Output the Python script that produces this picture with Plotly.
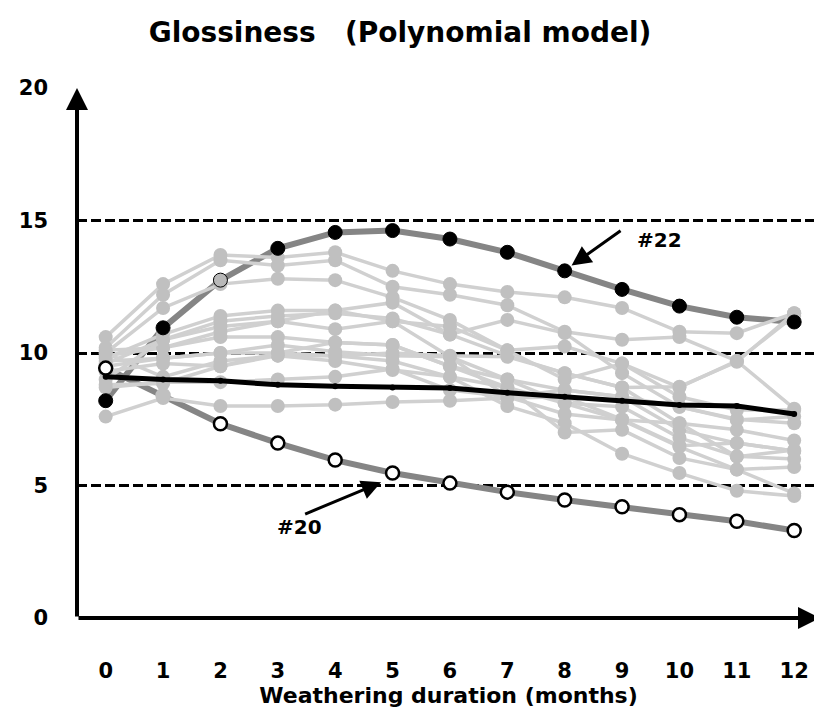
import plotly.graph_objects as go

months = list(range(13))
x_tick_labels = [str(m) for m in months]
y_ticks = [0, 5, 10, 15, 20]

G01 = [10.6, 12.6, 13.7, 13.6, 13.8, 13.1, 12.6, 12.3, 12.1, 11.7, 10.8, 10.75, 11.5]
G02 = [10.2, 12.2, 13.5, 13.3, 13.5, 12.5, 12.2, 11.8, 10.8, 10.5, 10.6, 9.7, 7.9]
G03 = [10.0, 11.7, 12.6, 12.8, 12.75, 12.1, 11.25, 10.1, 10.25, 9.6, 8.7, 9.7, 11.4]
G04 = [9.8, 10.7, 11.4, 11.6, 11.6, 11.9, 10.7, 11.25, 10.75, 9.24, 7.97, 7.5, 7.35]
G05 = [9.6, 10.5, 11.2, 11.4, 11.5, 11.3, 10.7, 9.9, 9.24, 8.7, 7.35, 7.1, 6.7]
G06 = [10.1, 10.2, 10.8, 11.2, 10.9, 11.2, 9.86, 9.0, 8.6, 8.35, 7.1, 6.6, 6.3]
G07 = [9.9, 10.2, 10.6, 10.6, 10.4, 10.3, 9.5, 8.7, 8.1, 7.97, 6.8, 6.1, 6.0]
G08 = [9.7, 9.8, 10.0, 10.3, 10.05, 9.9, 9.86, 8.35, 7.7, 7.47, 6.46, 5.6, 5.7]
G09 = [10.0, 9.1, 9.7, 9.9, 9.9, 9.7, 9.1, 8.0, 7.35, 6.2, 5.47, 4.8, 4.6]
G10 = [8.8, 8.85, 9.5, 9.9, 9.7, 9.36, 9.1, 8.7, 7.0, 7.1, 6.04, 5.6, 4.7]
G11 = [8.7, 8.9, 8.9, 9.0, 9.1, 9.4, 8.6, 8.35, 8.6, 8.35, 7.97, 7.47, 7.6]
G12 = [7.6, 8.3, 8.0, 8.0, 8.05, 8.15, 8.2, 8.3, 8.35, 7.5, 6.5, 6.6, 6.3]
G13 = [9.5, 9.8, 10.0, 10.0, 9.9, 10.0, 9.9, 9.86, 9.24, 8.7, 8.73, 9.67, 11.5]
G14 = [9.0, 10.5, 11.0, 11.2, 11.6, 11.2, 11.0, 10.1, 9.0, 9.6, 8.35, 7.85, 7.85]
G15 = [9.3, 9.6, 9.5, 10.0, 10.4, 10.3, 9.5, 9.0, 8.1, 7.47, 7.35, 6.09, 6.34]
gray_series = [G01, G02, G03, G04, G05, G06, G07, G08, G09, G10, G11, G12, G13, G14, G15]

mean_line = [9.1, 9.0, 8.95, 8.8, 8.75, 8.7, 8.68, 8.5, 8.35, 8.2, 8.04, 8.0, 7.7]
sample_22 = [8.2, 10.95, 12.75, 13.95, 14.55, 14.62, 14.3, 13.8, 13.1, 12.4, 11.77, 11.35, 11.17]
sample_20 = [9.43, 8.4, 7.33, 6.6, 5.96, 5.47, 5.09, 4.75, 4.45, 4.2, 3.9, 3.65, 3.3]

FONT = "DejaVu Sans"
W, H = 814, 707  # page body adds an 8px offset
fig = go.Figure()

fig.add_trace(go.Scatter(x=months, y=sample_20, mode="lines",
                         line=dict(color="#858585", width=6), showlegend=False))
fig.add_trace(go.Scatter(x=months, y=sample_22, mode="lines",
                         line=dict(color="#858585", width=6), showlegend=False))

for s in gray_series:
    fig.add_trace(go.Scatter(x=months, y=s, mode="lines+markers",
                             line=dict(color="#d0d0d0", width=3.5),
                             marker=dict(color="#c0c0c0", size=14),
                             showlegend=False))

fig.add_trace(go.Scatter(x=months, y=mean_line, mode="lines+markers",
                         line=dict(color="#000000", width=5),
                         marker=dict(color="#000000", size=6),
                         showlegend=False))

m20_fill = ["#ffffff"] * 13
m20_fill[1] = "#c0c0c0"
m20_edge = ["#000000"] * 13
m20_edge[1] = "#c0c0c0"
fig.add_trace(go.Scatter(x=months, y=sample_20, mode="markers",
                         marker=dict(color=m20_fill, size=13,
                                     line=dict(color=m20_edge, width=2.5)),
                         showlegend=False))

m22_fill = ["#000000"] * 13
m22_fill[2] = "#b8b8b8"
fig.add_trace(go.Scatter(x=months, y=sample_22, mode="markers",
                         marker=dict(color=m22_fill, size=14,
                                     line=dict(color="#000000", width=1)),
                         showlegend=False))

annotations = [
    dict(x=-0.5, y=20, ax=-0.5, ay=0, xref="x", yref="y", axref="x", ayref="y",
         showarrow=True, arrowhead=2, arrowsize=1.1, arrowwidth=4, arrowcolor="#000", text=""),
    dict(x=12.45, y=0, ax=-0.5, ay=0, xref="x", yref="y", axref="x", ayref="y",
         showarrow=True, arrowhead=2, arrowsize=1.1, arrowwidth=4, arrowcolor="#000", text=""),
    dict(x=8.12, y=13.3, ax=9.0, ay=14.65, xref="x", yref="y", axref="x", ayref="y",
         showarrow=True, arrowhead=2, arrowsize=1.3, arrowwidth=3, arrowcolor="#000", text=""),
    dict(x=9.65, y=14.25, xref="x", yref="y", text="<b>#22</b>", showarrow=False,
         font=dict(family=FONT, size=20, color="#000")),
    dict(x=4.8, y=5.12, ax=3.45, ay=3.9, xref="x", yref="y", axref="x", ayref="y",
         showarrow=True, arrowhead=2, arrowsize=1.3, arrowwidth=3, arrowcolor="#000", text=""),
    dict(x=3.38, y=3.45, xref="x", yref="y", text="<b>#20</b>", showarrow=False,
         font=dict(family=FONT, size=20, color="#000")),
]

fig.update_layout(
    width=W, height=H,
    margin=dict(l=69, r=2, t=80, b=97, autoexpand=False),
    paper_bgcolor="white", plot_bgcolor="white",
    title=dict(text="<b>Glossiness   (Polynomial model)</b>", x=392 / W, xref="container",
               xanchor="center", y=1 - 24 / H, yref="container", yanchor="middle",
               automargin=False,
               font=dict(family=FONT, size=28, color="#000")),
    annotations=annotations,
    xaxis=dict(range=[-0.5, 12.45], tickvals=months,
               ticktext=[f"<b>{t}</b>" for t in x_tick_labels],
               showgrid=False, zeroline=False, showline=False, automargin=False,
               ticks="", ticklabelstandoff=38,
               tickfont=dict(family=FONT, size=21, color="#000"),
               title=dict(text="<b>Weathering duration (months)</b>", standoff=5,
                          font=dict(family=FONT, size=22, color="#000"))),
    yaxis=dict(range=[0, 20], tickvals=y_ticks, ticktext=[f"<b>{v}</b>" for v in y_ticks],
               showgrid=True, gridcolor="#000", gridwidth=2.5, griddash="10px,4px",
               zeroline=False, showline=False, ticks="", ticklabelstandoff=28,
               automargin=False,
               tickfont=dict(family=FONT, size=21, color="#000")),
)

fig.write_html("out.html")
